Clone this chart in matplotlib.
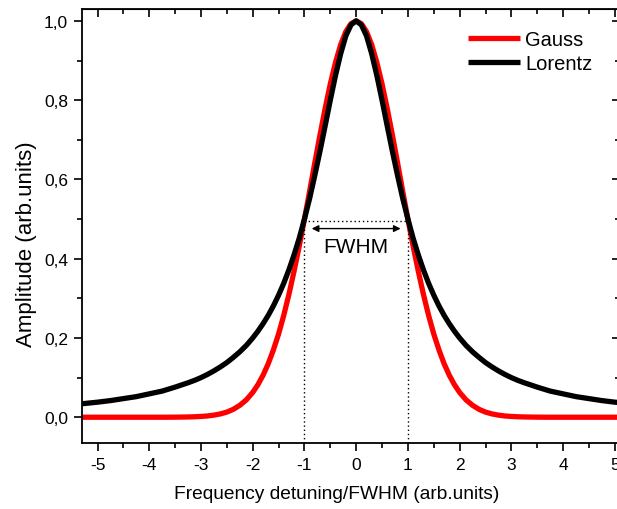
import matplotlib
matplotlib.use('Agg')
import matplotlib.pyplot as plt
from matplotlib.ticker import MultipleLocator, FuncFormatter

plt.rcParams['font.family'] = ['Liberation Sans', 'DejaVu Sans']

# values
detuning = [-5.3, -5.0, -4.75, -4.5, -4.25, -4.0, -3.75, -3.5, -3.25, -3.125,
            -3.0, -2.875, -2.75, -2.625, -2.5, -2.375, -2.25, -2.125, -2.0,
            -1.9, -1.8, -1.7, -1.6, -1.5, -1.4, -1.3, -1.2, -1.1, -1.0,
            -0.9, -0.8, -0.7, -0.6, -0.5, -0.4, -0.3, -0.2, -0.1, 0.0,
            0.1, 0.2, 0.3, 0.4, 0.5, 0.6, 0.7, 0.8, 0.9, 1.0,
            1.1, 1.2, 1.3, 1.4, 1.5, 1.6, 1.7, 1.8, 1.9, 2.0,
            2.125, 2.25, 2.375, 2.5, 2.625, 2.75, 2.875, 3.0, 3.125, 3.25,
            3.5, 3.75, 4.0, 4.25, 4.5, 4.75, 5.0, 5.1]
gauss = [0.0, 0.0, 0.0, 0.0, 0.0, 0.0, 0.0, 0.0002, 0.0007, 0.0012,
         0.002, 0.0032, 0.0053, 0.0084, 0.013, 0.020, 0.030, 0.0437, 0.0625,
         0.082, 0.106, 0.135, 0.170, 0.210, 0.257, 0.310, 0.369, 0.432, 0.500,
         0.570, 0.642, 0.712, 0.779, 0.841, 0.895, 0.940, 0.973, 0.993, 1.0,
         0.993, 0.973, 0.940, 0.895, 0.841, 0.779, 0.712, 0.642, 0.570, 0.500,
         0.432, 0.369, 0.310, 0.257, 0.210, 0.170, 0.135, 0.106, 0.082, 0.0625,
         0.0437, 0.030, 0.020, 0.013, 0.0084, 0.0053, 0.0032, 0.002, 0.0012, 0.0007,
         0.0002, 0.0, 0.0, 0.0, 0.0, 0.0, 0.0, 0.0]
lorentz = [0.034, 0.038, 0.042, 0.047, 0.052, 0.059, 0.066, 0.076, 0.087, 0.093,
           0.100, 0.108, 0.117, 0.127, 0.138, 0.151, 0.165, 0.181, 0.200,
           0.217, 0.236, 0.257, 0.281, 0.308, 0.338, 0.372, 0.410, 0.452, 0.500,
           0.552, 0.610, 0.671, 0.735, 0.800, 0.862, 0.917, 0.962, 0.990, 1.0,
           0.990, 0.962, 0.917, 0.862, 0.800, 0.735, 0.671, 0.610, 0.552, 0.500,
           0.452, 0.410, 0.372, 0.338, 0.308, 0.281, 0.257, 0.236, 0.217, 0.200,
           0.181, 0.165, 0.151, 0.138, 0.127, 0.117, 0.108, 0.100, 0.093, 0.087,
           0.076, 0.066, 0.059, 0.052, 0.047, 0.042, 0.038, 0.037]
half_max = 0.495
fwhm_edges = [-1.0, 1.0]

W, H = 617, 510
fig = plt.figure(figsize=(W / 100, H / 100), dpi=100)
ax = fig.add_axes([82 / W, 1 - 444 / H, (620 - 82) / W, (444 - 10) / H])

ax.plot(detuning, gauss, color='#ff0000', lw=3.8, label='Gauss', solid_capstyle='butt')
ax.plot(detuning, lorentz, color='black', lw=3.8, label='Lorentz', solid_capstyle='butt')

ax.set_xlim(-5.3, 5.1)
ax.set_ylim(-0.065, 1.03)

# FWHM markers
ax.plot(fwhm_edges, [half_max, half_max], color='black', ls=(0, (1, 2)), lw=1)
for xe in fwhm_edges:
    ax.plot([xe, xe], [-0.065, half_max], color='black', ls=(0, (1, 2)), lw=1)
ax.annotate('', xy=(-0.86, 0.476), xytext=(0.86, 0.476),
            arrowprops=dict(arrowstyle='<|-|>', color='black', lw=1,
                            mutation_scale=10, shrinkA=0, shrinkB=0))
ax.text(0, 0.432, 'FWHM', ha='center', va='center', fontsize=15)

ax.xaxis.set_major_locator(MultipleLocator(1))
ax.xaxis.set_minor_locator(MultipleLocator(0.5))
ax.yaxis.set_major_locator(MultipleLocator(0.2))
ax.yaxis.set_minor_locator(MultipleLocator(0.1))
ax.yaxis.set_major_formatter(FuncFormatter(lambda v, p: f'{v:.1f}'.replace('.', ',')))
ax.xaxis.set_major_formatter(FuncFormatter(lambda v, p: f'{v:.0f}'))

ax.tick_params(which='both', direction='out', width=1.2, labelsize=12.5, pad=4)
ax.tick_params(which='major', length=6)
ax.tick_params(which='minor', length=3.5)
for spine in ax.spines.values():
    spine.set_linewidth(1.3)

# inward ticks on top and right
top = ax.secondary_xaxis('top')
top.xaxis.set_major_locator(MultipleLocator(1))
top.xaxis.set_minor_locator(MultipleLocator(0.5))
top.tick_params(which='both', direction='in', width=1.2, labeltop=False)
top.tick_params(which='major', length=6)
top.tick_params(which='minor', length=3.5)
right = ax.secondary_yaxis('right')
right.yaxis.set_major_locator(MultipleLocator(0.2))
right.yaxis.set_minor_locator(MultipleLocator(0.1))
right.tick_params(which='both', direction='in', width=1.2, labelright=False)
right.tick_params(which='major', length=6)
right.tick_params(which='minor', length=3.5)

ax.set_xlabel('Frequency detuning/FWHM (arb.units)', fontsize=13.8)
ax.set_ylabel('Amplitude (arb.units)', fontsize=16)
ax.xaxis.set_label_coords(0.474, -0.097)
ax.yaxis.set_label_coords(-0.084, 0.461)

ax.legend(loc='upper left', bbox_to_anchor=(468 / W, 1 - 31 / H),
          bbox_transform=fig.transFigure, frameon=False, fontsize=14.5,
          handlelength=2.6, handletextpad=0.25, labelspacing=0.25,
          borderpad=0, borderaxespad=0)

fig.savefig('out.png', dpi=100)
